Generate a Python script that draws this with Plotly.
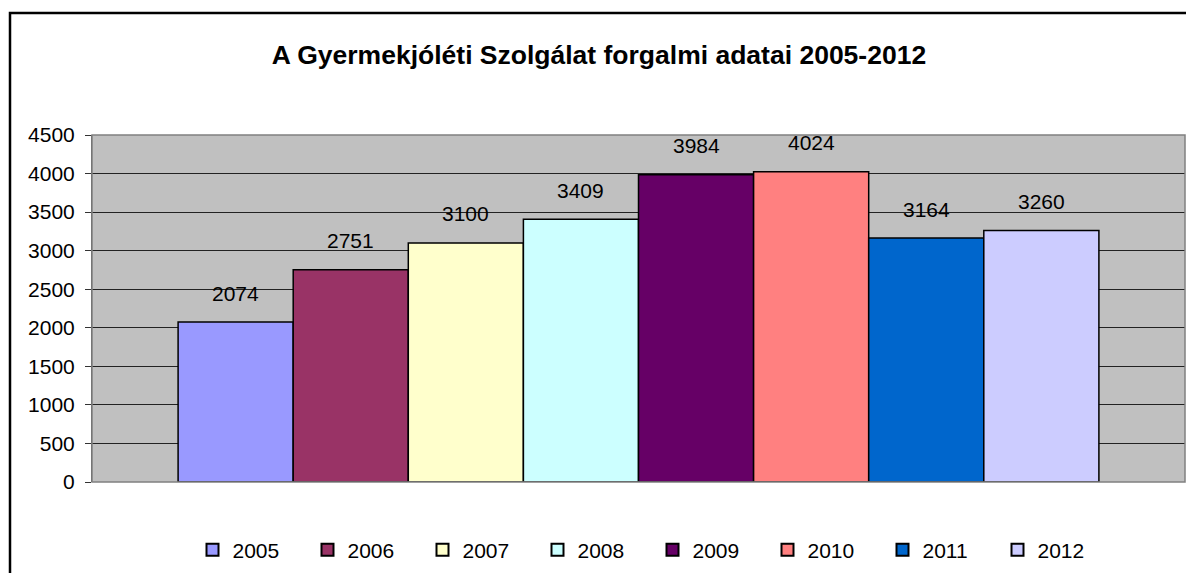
import plotly.graph_objects as go

years = ["2005", "2006", "2007", "2008", "2009", "2010", "2011", "2012"]
values = [2074, 2751, 3100, 3409, 3984, 4024, 3164, 3260]
colors = ["#9999FF", "#993366", "#FFFFCC", "#CCFFFF", "#660066", "#FF8080", "#0066CC", "#CCCCFF"]
title_text = "A Gyermekjóléti Szolgálat forgalmi adatai 2005-2012"

FONT = "Liberation Sans, Arial, sans-serif"
FS = 21

fig = go.Figure()
for i, (yr, v, c) in enumerate(zip(years, values, colors)):
    fig.add_trace(go.Bar(
        x=[i], y=[v], name=yr, width=1,
        marker=dict(color=c, line=dict(color="black", width=1.5)),
        hoverinfo="name+y",
    ))
    fig.add_annotation(x=i, y=v, text=str(v), showarrow=False,
                       yanchor="middle", yshift=29,
                       font=dict(family=FONT, size=FS, color="black"))

ML, MR, MT, MB = 92, 1, 135, 91
W, H = 1186, 573
pw, ph = W - ML - MR, H - MT - MB

fig.update_layout(
    width=W, height=H,
    margin=dict(l=ML, r=MR, t=MT, b=MB),
    barmode="overlay",
    paper_bgcolor="white",
    plot_bgcolor="#C0C0C0",
    font=dict(family=FONT, size=FS, color="black"),
    title=dict(text="<b>" + title_text + "</b>", x=0.505, xanchor="center",
               y=1 - 55 / H, yanchor="middle",
               font=dict(family=FONT, size=26.5, color="black")),
    xaxis=dict(range=[-1.248, 8.248], showticklabels=False, showgrid=False,
               zeroline=False, showline=False, fixedrange=True),
    yaxis=dict(range=[0, 4500], dtick=500, tick0=0, showgrid=True,
               gridcolor="#222222", gridwidth=1, zeroline=False,
               showline=True, linecolor="#555555", linewidth=1,
               ticks="outside", ticklen=6, tickcolor="#333333",
               tickfont=dict(family=FONT, size=FS), ticklabelstandoff=6),
    legend=dict(orientation="h", x=0.5 + 14 / pw, xanchor="center",
                y=(482 - 550) / ph, yanchor="middle",
                entrywidth=70, entrywidthmode="pixels",
                font=dict(family=FONT, size=FS), itemsizing="constant",
                bgcolor="rgba(0,0,0,0)"),
    showlegend=True,
)

# plot area border
fig.add_shape(type="rect", xref="paper", yref="paper", x0=0, x1=1, y0=0, y1=1,
              line=dict(color="#808080", width=1.5), fillcolor="rgba(0,0,0,0)", layer="above")
# outer chart border
fig.add_shape(type="rect", xref="paper", yref="paper",
              x0=(10 - ML) / pw, x1=1.2, y0=-0.5, y1=1 + (MT - 13) / ph,
              line=dict(color="black", width=2.5), fillcolor="rgba(0,0,0,0)")

fig.write_html("out.html", config={"displayModeBar": False})
with open("out.html", encoding="utf-8") as f:
    html = f.read()
html = html.replace("<head>", "<head><style>html,body{margin:0;padding:0;overflow:hidden;}</style>", 1)
with open("out.html", "w", encoding="utf-8") as f:
    f.write(html)
